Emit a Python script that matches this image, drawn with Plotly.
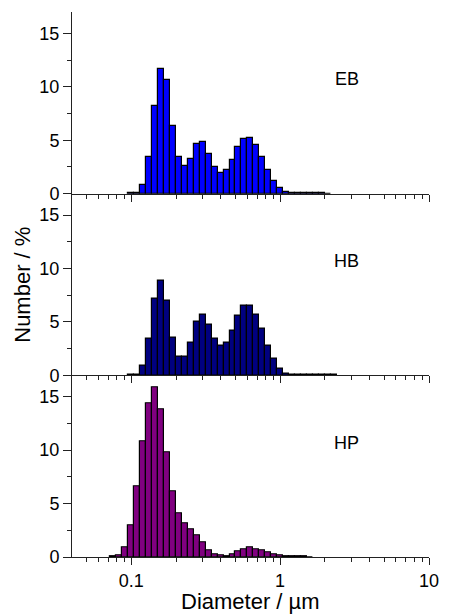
import numpy as np
import plotly.graph_objects as go
from plotly.subplots import make_subplots

# bin centres (log10 of diameter in µm), equal log-width bins
log_centers = [-1.12, -1.08, -1.04, -1.00, -0.96, -0.92, -0.88, -0.84, -0.80, -0.76,
               -0.72, -0.68, -0.64, -0.60, -0.56, -0.52, -0.48, -0.44, -0.40, -0.36,
               -0.32, -0.28, -0.24, -0.20, -0.16, -0.12, -0.08, -0.04, 0.00, 0.04,
               0.08, 0.12, 0.16, 0.20, 0.24, 0.28, 0.32, 0.36, 0.40]
bin_width_log = 0.04

eb = [0, 0, 0, 0.02, 0.05, 0.78, 3.4, 8.2, 11.7, 10.6,
      6.35, 3.42, 2.62, 3.28, 4.62, 4.87, 3.75, 2.5, 1.94, 2.25,
      3.18, 4.37, 5.12, 5.18, 4.56, 3.47, 2.25, 1.22, 0.53, 0.16,
      0.05, 0.04, 0.03, 0.03, 0.02, 0.02, 0.01, 0, 0]
hb = [0, 0, 0, 0.02, 0.1, 0.94, 3.44, 7.2, 8.84, 6.97,
      3.53, 1.78, 1.78, 3.03, 5.06, 5.72, 4.75, 3.44, 2.81, 3.09,
      4.19, 5.59, 6.5, 6.5, 5.66, 4.34, 2.78, 1.53, 0.66, 0.19,
      0.06, 0.03, 0.03, 0.04, 0.04, 0.04, 0.03, 0.02, 0]
hp = [0.02, 0.12, 0.92, 3.0, 6.66, 10.85, 14.35, 15.9, 13.85, 9.8,
      6.12, 4.05, 3.13, 2.56, 2.06, 1.34, 0.67, 0.28, 0.12, 0.1,
      0.22, 0.52, 0.75, 0.86, 0.75, 0.6, 0.44, 0.25, 0.14, 0.09,
      0.05, 0.03, 0.02, 0.01, 0, 0, 0, 0, 0]

series = [("EB", eb, "#0000FF"), ("HB", hb, "#000080"), ("HP", hp, "#800080")]

x_major = [0.1, 1, 10]
x_major_text = ["0.1", "1", "10"]
x_minor = [0.05, 0.06, 0.07, 0.08, 0.09, 0.2, 0.3, 0.4, 0.5, 0.6, 0.7, 0.8, 0.9,
           2, 3, 4, 5, 6, 7, 8, 9]
y_major = [0, 5, 10, 15]
y_minor = [2.5, 7.5, 12.5]

lc = np.array(log_centers)
centers = 10 ** lc
left = 10 ** (lc - bin_width_log / 2)
right = 10 ** (lc + bin_width_log / 2)
offsets = left - centers
widths = right - left

FONT = "Arial, Liberation Sans, sans-serif"

fig = make_subplots(rows=3, cols=1, shared_xaxes=True, vertical_spacing=0)

for i, (name, vals, col) in enumerate(series, start=1):
    v = np.array(vals, dtype=float)
    keep = v > 0
    fig.add_trace(go.Bar(x=centers[keep], y=v[keep], offset=offsets[keep], width=widths[keep],
                         marker=dict(color=col, line=dict(color="black", width=1.2)),
                         name=name, showlegend=False), row=i, col=1)
    fig.add_annotation(text=name, xref=f"x{'' if i == 1 else i} domain",
                       yref=f"y{'' if i == 1 else i} domain",
                       x=0.809, y=0.63, showarrow=False,
                       font=dict(family=FONT, size=18, color="black"))
    fig.update_xaxes(type="log", range=[np.log10(0.04), 1],
                     tickmode="array", tickvals=x_major, ticktext=x_major_text,
                     ticks="outside", ticklen=7, tickwidth=1, tickcolor="#222",
                     minor=dict(tickmode="array", tickvals=x_minor, ticks="outside",
                                ticklen=4, tickwidth=1, tickcolor="#222"),
                     showline=True, linecolor="#222", linewidth=1,
                     showgrid=False, zeroline=False,
                     tickfont=dict(family=FONT, size=18, color="black"),
                     row=i, col=1)
    fig.update_yaxes(range=[0, 17], tickmode="array", tickvals=y_major,
                     ticks="outside", ticklen=8, tickwidth=1, tickcolor="#222",
                     minor=dict(tickmode="array", tickvals=y_minor, ticks="outside",
                                ticklen=4, tickwidth=1, tickcolor="#222"),
                     showline=True, linecolor="#222", linewidth=1,
                     showgrid=False, zeroline=False,
                     tickfont=dict(family=FONT, size=18, color="black"),
                     row=i, col=1)

fig.update_xaxes(showticklabels=True, row=3, col=1)

fig.add_annotation(text="Number / %", xref="paper", yref="paper",
                   x=(21 - 72) / 366, y=0.5, textangle=-90, showarrow=False,
                   xanchor="center", yanchor="middle",
                   font=dict(family=FONT, size=22, color="black"))
fig.add_annotation(text="Diameter / µm", xref="paper", yref="paper",
                   x=0.5, y=-(601 - 557) / 545, showarrow=False,
                   xanchor="center", yanchor="middle",
                   font=dict(family=FONT, size=22, color="black"))

fig.update_layout(width=451, height=614,
                  margin=dict(l=72, r=13, t=12, b=57),
                  plot_bgcolor="white", paper_bgcolor="white",
                  bargap=0, barmode="overlay")

fig.write_html("out.html")
